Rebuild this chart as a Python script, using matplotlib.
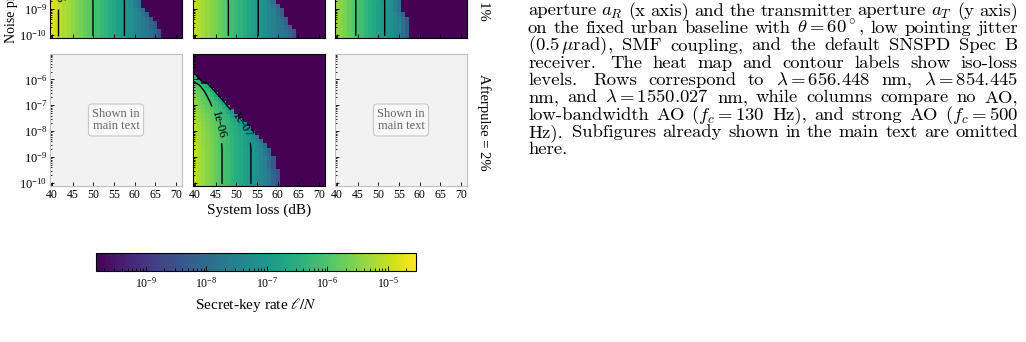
import matplotlib
matplotlib.use('Agg')
import matplotlib.pyplot as plt
import numpy as np
from matplotlib.colors import LogNorm

plt.rcParams['font.family'] = 'serif'
plt.rcParams['font.serif'] = ['Liberation Serif', 'DejaVu Serif']
plt.rcParams['mathtext.fontset'] = 'stix'

W, H = 1026, 342

# grid of the heat maps
loss_db = np.arange(40, 72)                 # system loss (dB), cell centres
noise_edges_exp = np.linspace(-10.12, -5.02, 32)
loss_ticks = [40, 45, 50, 55, 60, 65, 70]

# log10 secret-key rate along the loss axis at low noise, one list per panel
rate_top_left = [-4.82, -4.94, -5.06, -5.18, -5.30, -5.42, -5.54, -5.66, -5.77, -5.89,
                 -6.01, -6.14, -6.27, -6.40, -6.53, -6.66, -6.80, -6.93, -7.07, -7.20,
                 -7.34, -7.48, -7.62, -7.76, -7.90, -8.00, -8.10, -8.30, -8.50, -8.70,
                 -8.90, -9.10]
rate_top_mid = [-5.03, -5.15, -5.27, -5.39, -5.51, -5.63, -5.75, -5.87, -5.99, -6.13,
                -6.27, -6.41, -6.55, -6.69, -6.83, -6.96, -7.10, -7.24, -7.38, -7.52,
                -7.66, -7.78, -7.86, -7.93, -8.00, -8.20, -8.40, -8.60, -8.80, -9.00,
                -9.20, -9.40]
rate_top_right = [-5.36, -5.50, -5.64, -5.78, -5.93, -6.07, -6.21, -6.36, -6.50, -6.64,
                  -6.79, -6.93, -7.07, -7.22, -7.36, -7.50, -7.70, -7.90, -8.10, -8.30,
                  -8.50, -8.70, -8.90, -9.10, -9.30, -9.50, -9.70, -9.90, -10.1, -10.3,
                  -10.5, -10.7]
rate_bot_mid = [-5.05, -5.20, -5.34, -5.49, -5.63, -5.78, -5.93, -6.07, -6.21, -6.36,
                -6.50, -6.64, -6.78, -6.93, -7.07, -7.22, -7.37, -7.55, -7.75, -7.95,
                -8.10, -8.30, -8.50, -8.70, -8.90, -9.10, -9.30, -9.50, -9.70, -9.90,
                -10.1, -10.3]

# last loss value (dB) that still gives a key, for each noise row (low -> high noise)
cutoff_top_left = [66, 66, 65, 65, 64, 63, 62, 61, 61, 60, 59, 58, 57, 56, 55, 54,
                   53, 52, 51, 50, 49, 48, 47, 46, 45, 44, 43, 42, 41, 40, 39]
cutoff_top_mid = [64, 64, 63, 62, 62, 61, 61, 60, 59, 58, 57, 56, 55, 54, 53, 52,
                  51, 50, 49, 48, 47, 46, 45, 44, 43, 42, 41, 40, 39, 39, 39]
cutoff_top_right = [57, 57, 57, 57, 57, 56, 55, 55, 55, 54, 53, 52, 51, 50, 49, 48,
                    47, 46, 45, 44, 43, 42, 41, 40, 39, 39, 39, 39, 39, 39, 39]
cutoff_bot_mid = [60, 60, 60, 60, 59, 59, 59, 58, 58, 57, 56, 55, 54, 53, 52, 51,
                  50, 49, 48, 47, 46, 45, 44, 43, 41, 40, 39, 39, 39, 39, 39]

# drop of log10 rate with noise for each noise row
noise_penalty = [0, 0, 0, 0, 0, 0, 0, 0, 0, 0.01, 0.02, 0.03, 0.05, 0.08, 0.12, 0.16,
                 0.22, 0.28, 0.35, 0.41, 0.48, 0.56, 0.64, 0.74, 0.86, 0.98, 1.10,
                 1.25, 1.40, 1.55, 1.70]
# extra drop of log10 rate in the last and second-last cell before the cutoff
edge_drop = [0.4, 0.2]

caption_lines = [
    r"aperture $a_R$ (x axis) and the transmitter aperture $a_T$ (y axis)",
    r"on the fixed urban baseline with $\theta=60^\circ$, low pointing jitter",
    r"(0.5$\,\mu$rad), SMF coupling, and the default SNSPD Spec B",
    r"receiver. The heat map and contour labels show iso-loss",
    r"levels. Rows correspond to $\lambda=656.448$ nm, $\lambda=854.445$",
    r"nm, and $\lambda=1550.027$ nm, while columns compare no AO,",
    r"low-bandwidth AO ($f_c=130$ Hz), and strong AO ($f_c=500$",
    r"Hz). Subfigures already shown in the main text are omitted",
    r"here.",
]

x_edges = np.append(loss_db - 0.5, loss_db[-1] + 0.5)
y_edges = 10.0 ** noise_edges_exp
y_centres = 10.0 ** (0.5 * (noise_edges_exp[1:] + noise_edges_exp[:-1]))

cmap = plt.get_cmap('viridis').copy()
cmap.set_bad(cmap(0.0))
norm = LogNorm(vmin=1.5e-10, vmax=2.9e-5)


def rate_table(col, cut):
    cut = np.array(cut)[:, None]
    logs = np.array(col)[None, :] - np.array(noise_penalty)[:, None]
    logs = logs - edge_drop[0] * (loss_db[None, :] == cut)
    logs = logs - edge_drop[1] * (loss_db[None, :] == cut - 1)
    table = 10.0 ** logs
    table[loss_db[None, :] > cut] = np.nan
    return table


def box(x0, y0, x1, y1):
    return [x0 / W, 1 - y1 / H, (x1 - x0) / W, (y1 - y0) / H]


def style(ax, first_col, bottom_row):
    ax.set_yscale('log')
    ax.set_xlim(x_edges[0], x_edges[-1])
    ax.set_ylim(y_edges[0], y_edges[-1])
    ax.set_xticks(loss_ticks)
    ax.tick_params(which='both', direction='in', pad=2, width=0.6)
    ax.tick_params(axis='x', labelsize=8.5)
    ax.tick_params(axis='y', labelsize=9)
    ax.tick_params(which='major', length=3)
    ax.tick_params(which='minor', length=1.5)
    ax.tick_params(labelleft=first_col, labelbottom=bottom_row)


def heat(ax, col, cut, label_pos):
    table = rate_table(col, cut)
    mesh = ax.pcolormesh(x_edges, y_edges, np.ma.masked_invalid(table),
                         cmap=cmap, norm=norm)
    cs = ax.contour(loss_db, y_centres, np.nan_to_num(table),
                    levels=[1e-7, 1e-6, 1e-5], colors='k', linewidths=1.0)
    ax.set_xlim(x_edges[0], x_edges[-1])
    ax.set_ylim(y_edges[0], y_edges[-1])
    if label_pos:
        ax.clabel(cs, fmt='%.0e', fontsize=9, manual=label_pos, inline=True)
    for s in ax.spines.values():
        s.set_linewidth(0.8)
    return mesh


def placeholder(ax):
    ax.set_facecolor('#f2f2f2')
    for s in ax.spines.values():
        s.set_color('#bfbfbf')
    ax.text(0.5, 0.5, 'Shown in\nmain text', transform=ax.transAxes,
            ha='center', va='center', fontsize=9, color='#666666', linespacing=1.05,
            bbox=dict(boxstyle='round,pad=0.3', fc='#f8f8f8', ec='#c8c8c8', lw=0.8))


fig = plt.figure(figsize=(W / 100, H / 100), dpi=100)

cols = [(50, 182), (193, 325), (335, 467)]
rows = [(-94, 38), (54, 186)]

ax = fig.add_axes(box(cols[0][0], rows[0][0], cols[0][1], rows[0][1]))
style(ax, True, False)
mesh = heat(ax, rate_top_left, cutoff_top_left, [(41.5, 10 ** -8.25)])

ax = fig.add_axes(box(cols[1][0], rows[0][0], cols[1][1], rows[0][1]))
style(ax, False, False)
heat(ax, rate_top_mid, cutoff_top_mid, None)

ax = fig.add_axes(box(cols[2][0], rows[0][0], cols[2][1], rows[0][1]))
style(ax, False, False)
heat(ax, rate_top_right, cutoff_top_right, None)

ax = fig.add_axes(box(cols[0][0], rows[1][0], cols[0][1], rows[1][1]))
style(ax, True, True)
placeholder(ax)

ax = fig.add_axes(box(cols[1][0], rows[1][0], cols[1][1], rows[1][1]))
style(ax, False, True)
heat(ax, rate_bot_mid, cutoff_bot_mid, [(45.8, 10 ** -7.74), (51.3, 10 ** -7.8)])
ax.set_xlabel('System loss (dB)', fontsize=11, labelpad=2)

ax = fig.add_axes(box(cols[2][0], rows[1][0], cols[2][1], rows[1][1]))
style(ax, False, True)
placeholder(ax)

# row / axis labels
fig.text(12 / W, 1 - 43 / H, 'Noise probability', rotation=90,
         ha='center', va='bottom', fontsize=10)
fig.text(484 / W, 1 + 28 / H, 'Afterpulse = 1%', rotation=-90,
         ha='center', va='center', fontsize=10.5)
fig.text(484 / W, 1 - 122 / H, 'Afterpulse = 2%', rotation=-90,
         ha='center', va='center', fontsize=10.5)

# colour bar
cax = fig.add_axes(box(96, 253, 416, 271))
cb = fig.colorbar(mesh, cax=cax, orientation='horizontal')
cb.set_label(r'Secret-key rate $\ell/N$', fontsize=11)
cb.outline.set_linewidth(0.8)
cax.tick_params(which='both', direction='in', labelsize=8.5, width=0.6)

# caption text on the right, justified like the LaTeX page
renderer = fig.canvas.get_renderer()
cap_x0, cap_x1 = 528, 1018


def word_widths(words, size):
    ts = [fig.text(0, 0, w, fontsize=size, family='cmr10', math_fontfamily='cm')
          for w in words]
    ws = [t.get_window_extent(renderer).width for t in ts]
    for t in ts:
        t.remove()
    return ws


# pick the font size so that lines with normal word spacing fill the column
scales = []
for line in caption_lines[:-1]:
    words = line.split()
    ws = word_widths(words, 10)
    space = 0.36 * 10 * 100 / 72
    scales.append((cap_x1 - cap_x0) / (sum(ws) + space * (len(words) - 1)))
cap_size = 10 * float(np.median(scales)) * 0.99

for k, line in enumerate(caption_lines):
    y = 1 - (15.5 + 17.35 * k) / H
    words = [fig.text(cap_x0 / W, y, w, fontsize=cap_size, family='cmr10',
                      math_fontfamily='cm', va='baseline') for w in line.split()]
    widths = [t.get_window_extent(renderer).width for t in words]
    weights = [1.4 if t.get_text().endswith('.') else 1.0 for t in words[:-1]]
    if k < len(caption_lines) - 1:
        unit = (cap_x1 - cap_x0 - sum(widths)) / sum(weights)
    else:
        unit = 0.36 * cap_size * 100 / 72
    x = cap_x0
    for t, w, g in zip(words, widths, weights + [0]):
        t.set_x(x / W)
        x += w + g * unit

fig.savefig('out.png', dpi=100)
